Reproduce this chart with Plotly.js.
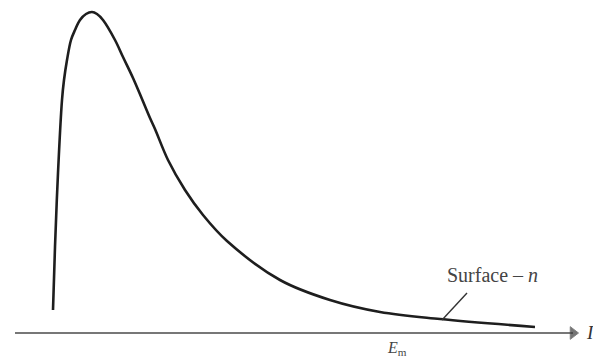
<!DOCTYPE html>
<html>
<head>
<meta charset="utf-8">
<script src="https://cdn.plot.ly/plotly-3.0.1.min.js"></script>
<style>html,body{margin:0;padding:0;background:#fff;}#chart{width:593px;height:361px;}</style>
</head>
<body>
<div id="chart"></div>
<script>
// Energy (horizontal position) and intensity (height above the axis)
const energy = [53, 55, 58, 62, 64, 67, 71, 75, 80, 86, 92, 97, 103, 115, 123, 133, 142, 150, 155, 168, 185, 203, 227, 280, 330, 380, 440, 535];
const intensity = [23, 86, 160, 233, 253, 273, 293, 303, 313, 319, 321, 319, 313, 293, 276, 255, 234, 215, 204, 173, 143, 118, 92, 53, 33, 21, 14, 6];
// Leader line from the curve to the "Surface" label
const leaderX = [442, 467];
const leaderY = [13, 40];
// Horizontal energy axis (start, arrow tip)
const axisX = [15, 573];
const axisY = [0, 0];

const traces = [
  {x: axisX, y: axisY, mode: 'lines+markers', line: {color: '#4a4a4a', width: 1.6},
   marker: {symbol: 'triangle-right', size: [0, 11], color: '#3a3a3a'}, hoverinfo: 'skip'},
  {x: energy, y: intensity, mode: 'lines', line: {color: '#1e1e1e', width: 2.6, shape: 'spline', smoothing: 1}, hoverinfo: 'skip'},
  {x: leaderX, y: leaderY, mode: 'lines', line: {color: '#333', width: 1.4}, hoverinfo: 'skip'}
];

const serif = 'Liberation Serif, Times New Roman, serif';
const layout = {
  width: 593, height: 361,
  margin: {l: 0, r: 0, t: 0, b: 0},
  paper_bgcolor: '#ffffff', plot_bgcolor: '#ffffff',
  showlegend: false,
  xaxis: {range: [0, 593], visible: false, fixedrange: true},
  yaxis: {range: [-28, 333], visible: false, fixedrange: true},
  annotations: [
    {x: 590, y: 1, xref: 'x', yref: 'y', text: '<i>I</i>', showarrow: false,
     font: {family: serif, size: 19, color: '#333'}},
    {x: 492, y: 58, xref: 'x', yref: 'y', text: 'Surface – <i>n</i>', showarrow: false,
     font: {family: serif, size: 20, color: '#444'}},
    {x: 397, y: -15, xref: 'x', yref: 'y', text: '<i>E</i><sub>m</sub>', showarrow: false,
     font: {family: serif, size: 16, color: '#444'}}
  ]
};
Plotly.newPlot('chart', traces, layout, {staticPlot: true, displayModeBar: false});
</script>
</body>
</html>
